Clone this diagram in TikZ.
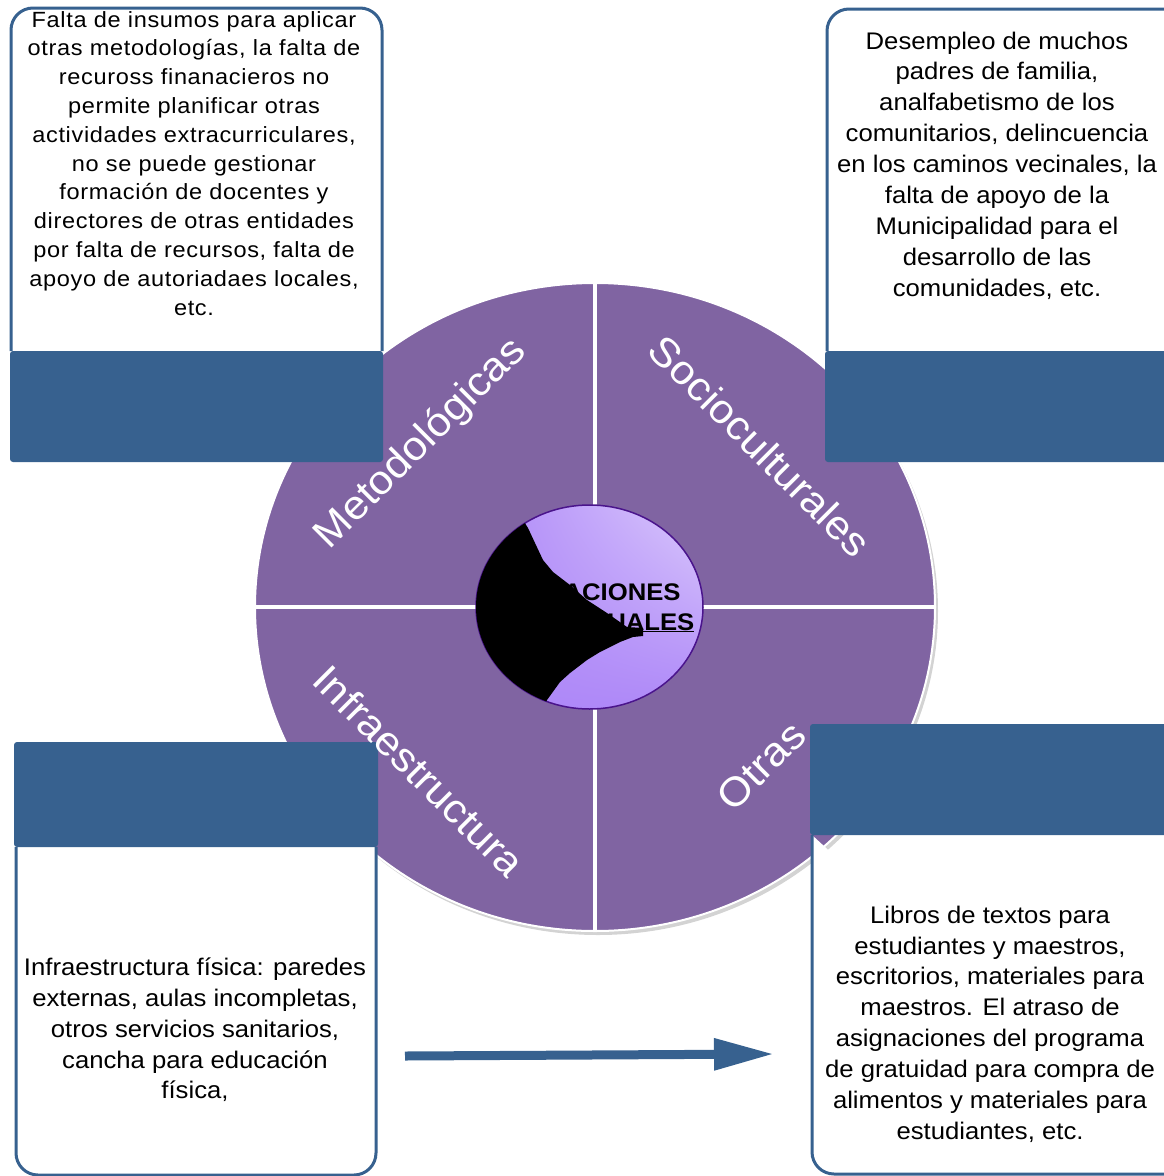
\documentclass[tikz,border=0pt]{standalone}
\usepackage{fontspec}
\setmainfont{Liberation Sans}[FakeStretch=1.07]
\newfontfamily\widefont{Liberation Sans}[FakeStretch=1.07,LetterSpace=3]
\usetikzlibrary{shapes.geometric,arrows.meta,shadows,shadings}

\definecolor{piepurple}{HTML}{8064A2}
\definecolor{boxblue}{HTML}{37618F}
\definecolor{hubfill}{HTML}{AE88F8}
\definecolor{hubline}{HTML}{4A148C}

\tikzset{
  boxtext/.style={inner sep=0pt, align=center, anchor=north,
    font=\fontsize{24}{30.9}\selectfont},
  pielabel/.style={text=white, inner sep=0pt, font=\fontsize{40.5}{40.5}\selectfont},
  divider/.style={white, line width=4pt},
  band/.style={fill=boxblue, rounded corners=3pt},
  frame/.style={draw=boxblue, line width=3pt, fill=white},
}

\begin{document}
\begin{tikzpicture}[x=1pt,y=-1pt]
    \useasboundingbox (0,0) rectangle (1163,1176);

    % pie in the middle
    \fill[piepurple, draw=white, line width=2pt,
      drop shadow={opacity=0.35, shadow xshift=3pt, shadow yshift=-4pt}]
      (595,607) ellipse [x radius=340pt, y radius=324pt];
    \draw[divider] (595,283) -- (595,931);
    \draw[divider] (255,607) -- (935,607);

    % hub
    \node[ellipse, draw=hubline, line width=1.5pt, minimum width=227pt, minimum height=204pt,
      shade, upper left=hubfill, lower left=hubfill, lower right=hubfill,
      upper right=hubfill!45!white] (hub) at (589.5,607) {};
    \node[inner sep=0pt, align=center, font=\bfseries\fontsize{24}{30}\selectfont,
      anchor=base] (hubtext) at (589.5,630) {LIMITACIONES\\\underline{CONTEXTUALES}};
    \begin{scope}
      \clip (hub.center) ellipse [x radius=113.5pt, y radius=102pt];
      \fill[black] (523,520) -- (528,528) -- (535,543) -- (543,560) -- (553,572)
        -- (570,585) -- (587,600) -- (607,613) -- (627,627) -- (643,628)
        -- (643,636) -- (633,637) -- (620,642) -- (600,652) -- (587,660)
        -- (570,673) -- (560,682) -- (547,700) -- (540,720) -- (460,720)
        -- (460,500) -- (523,500) -- cycle;
    \end{scope}

    % top left box
    \filldraw[frame] (11,351) [rounded corners=22pt] -- (11,8) -- (382,8)
      [sharp corners] -- (382,351);
    \fill[band] (10,351) rectangle (383,462);
    \node[boxtext, font=\widefont\fontsize{22}{28.8}\selectfont] (metodtext) at (194,11)
      {Falta de insumos para aplicar\\otras metodologías, la falta de\\recuross finanacieros no\\
       permite planificar otras\\actividades extracurriculares,\\no se puede gestionar\\
       formación de docentes y\\directores de otras entidades\\por falta de recursos, falta de\\
       apoyo de autoriadaes locales,\\etc.};

    % top right box
    \filldraw[frame] (827,351) [rounded corners=22pt] -- (827,9) -- (1180,9);
    \fill[band] (825,351) rectangle (1180,462);
    \node[boxtext] (sociotext) at (997,31.5)
      {Desempleo de muchos\\padres de familia,\\analfabetismo de los\\comunitarios, delincuencia\\
       en los caminos vecinales, la\\falta de apoyo de la\\Municipalidad para el\\
       desarrollo de las\\comunidades, etc.};

    % bottom left box
    \filldraw[frame] (16,847) [rounded corners=22pt] -- (16,1175) -- (376,1175)
      [sharp corners] -- (376,847);
    \fill[band] (14,742) rectangle (378,847);
    \node[boxtext] (infratext) at (195,957.5)
      {Infraestructura física: paredes\\externas, aulas incompletas,\\otros servicios sanitarios,\\
       cancha para educación\\física,};

    % bottom right box
    \filldraw[frame] (812,835) [rounded corners=22pt] -- (812,1174) -- (1180,1174);
    \fill[band] (810,724) rectangle (1180,835);
    \node[boxtext] (otrastext) at (990,905.5)
      {Libros de textos para\\estudiantes y maestros,\\escritorios, materiales para\\
       maestros. El atraso de\\asignaciones del programa\\de gratuidad para compra de\\
       alimentos y materiales para\\estudiantes, etc.};

    % pie labels
    \node[pielabel, rotate=45] (metodlabel) at (421,444) {Metodológicas};
    \node[pielabel, rotate=-45] (sociolabel) at (760,446) {Socioculturales};
    \node[pielabel, rotate=-45] (infralabel) at (419,771) {Infraestructura};
    \node[pielabel, rotate=45] (otraslabel) at (761,766) {Otras};

    % arrow between the bottom boxes
    \coordinate (arrowstart) at (405,1056);
    \coordinate (arrowend) at (774,1054);
    \draw[boxblue, line width=9pt, -{Triangle[length=60pt,width=30pt]}]
      (arrowstart) -- (arrowend);
\end{tikzpicture}
\end{document}
